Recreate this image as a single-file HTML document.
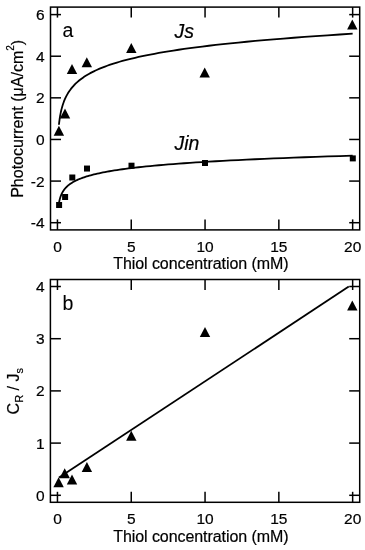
<!DOCTYPE html>
<html><head><meta charset="utf-8"><style>
html,body{margin:0;padding:0;background:#fff;}
body{width:365px;height:550px;overflow:hidden;}
svg{display:block;}
text{font-family:"Liberation Sans",Arial,sans-serif;fill:#000;stroke:#000;stroke-width:0.2px;}
</style></head><body>
<svg width="365" height="550" viewBox="0 0 365 550">
<g stroke="#000" stroke-linecap="butt" fill="none">
<rect x="50.5" y="7.1" width="309.2" height="222.8" fill="none" stroke-width="1.5"/>
<line x1="50.5" y1="14.6" x2="61" y2="14.6" stroke-width="1.5"/>
<line x1="359.7" y1="14.6" x2="349.2" y2="14.6" stroke-width="1.5"/>
<line x1="50.5" y1="56.22" x2="61" y2="56.22" stroke-width="1.5"/>
<line x1="359.7" y1="56.22" x2="349.2" y2="56.22" stroke-width="1.5"/>
<line x1="50.5" y1="97.84" x2="61" y2="97.84" stroke-width="1.5"/>
<line x1="359.7" y1="97.84" x2="349.2" y2="97.84" stroke-width="1.5"/>
<line x1="50.5" y1="139.46" x2="61" y2="139.46" stroke-width="1.5"/>
<line x1="359.7" y1="139.46" x2="349.2" y2="139.46" stroke-width="1.5"/>
<line x1="50.5" y1="181.08" x2="61" y2="181.08" stroke-width="1.5"/>
<line x1="359.7" y1="181.08" x2="349.2" y2="181.08" stroke-width="1.5"/>
<line x1="50.5" y1="222.7" x2="61" y2="222.7" stroke-width="1.5"/>
<line x1="359.7" y1="222.7" x2="349.2" y2="222.7" stroke-width="1.5"/>
<line x1="57.45" y1="229.9" x2="57.45" y2="219.4" stroke-width="1.5"/>
<line x1="57.45" y1="7.1" x2="57.45" y2="17.6" stroke-width="1.5"/>
<line x1="131.25" y1="229.9" x2="131.25" y2="219.4" stroke-width="1.5"/>
<line x1="131.25" y1="7.1" x2="131.25" y2="17.6" stroke-width="1.5"/>
<line x1="205.05" y1="229.9" x2="205.05" y2="219.4" stroke-width="1.5"/>
<line x1="205.05" y1="7.1" x2="205.05" y2="17.6" stroke-width="1.5"/>
<line x1="278.85" y1="229.9" x2="278.85" y2="219.4" stroke-width="1.5"/>
<line x1="278.85" y1="7.1" x2="278.85" y2="17.6" stroke-width="1.5"/>
<line x1="352.65" y1="229.9" x2="352.65" y2="219.4" stroke-width="1.5"/>
<line x1="352.65" y1="7.1" x2="352.65" y2="17.6" stroke-width="1.5"/>
<rect x="50.4" y="279.5" width="309.3" height="222.8" fill="none" stroke-width="1.5"/>
<line x1="50.4" y1="286.5" x2="60.9" y2="286.5" stroke-width="1.5"/>
<line x1="359.7" y1="286.5" x2="349.2" y2="286.5" stroke-width="1.5"/>
<line x1="50.4" y1="338.7" x2="60.9" y2="338.7" stroke-width="1.5"/>
<line x1="359.7" y1="338.7" x2="349.2" y2="338.7" stroke-width="1.5"/>
<line x1="50.4" y1="390.9" x2="60.9" y2="390.9" stroke-width="1.5"/>
<line x1="359.7" y1="390.9" x2="349.2" y2="390.9" stroke-width="1.5"/>
<line x1="50.4" y1="443.1" x2="60.9" y2="443.1" stroke-width="1.5"/>
<line x1="359.7" y1="443.1" x2="349.2" y2="443.1" stroke-width="1.5"/>
<line x1="50.4" y1="495.3" x2="60.9" y2="495.3" stroke-width="1.5"/>
<line x1="359.7" y1="495.3" x2="349.2" y2="495.3" stroke-width="1.5"/>
<line x1="57.45" y1="502.3" x2="57.45" y2="491.8" stroke-width="1.5"/>
<line x1="57.45" y1="279.5" x2="57.45" y2="290" stroke-width="1.5"/>
<line x1="131.25" y1="502.3" x2="131.25" y2="491.8" stroke-width="1.5"/>
<line x1="131.25" y1="279.5" x2="131.25" y2="290" stroke-width="1.5"/>
<line x1="205.05" y1="502.3" x2="205.05" y2="491.8" stroke-width="1.5"/>
<line x1="205.05" y1="279.5" x2="205.05" y2="290" stroke-width="1.5"/>
<line x1="278.85" y1="502.3" x2="278.85" y2="491.8" stroke-width="1.5"/>
<line x1="278.85" y1="279.5" x2="278.85" y2="290" stroke-width="1.5"/>
<line x1="352.65" y1="502.3" x2="352.65" y2="491.8" stroke-width="1.5"/>
<line x1="352.65" y1="279.5" x2="352.65" y2="290" stroke-width="1.5"/>
<path d="M58.93 124.75 L58.99 124.13 L59.06 123.5 L59.14 122.86 L59.21 122.22 L59.29 121.57 L59.38 120.92 L59.47 120.26 L59.56 119.6 L59.65 118.93 L59.75 118.25 L59.86 117.57 L59.97 116.89 L60.08 116.2 L60.2 115.51 L60.33 114.81 L60.46 114.11 L60.6 113.41 L60.74 112.7 L60.89 111.99 L61.05 111.27 L61.21 110.55 L61.38 109.83 L61.56 109.11 L61.75 108.38 L61.94 107.65 L62.15 106.91 L62.36 106.17 L62.58 105.43 L62.82 104.69 L63.06 103.95 L63.32 103.2 L63.59 102.45 L63.86 101.7 L64.16 100.94 L64.46 100.19 L64.78 99.43 L65.12 98.67 L65.46 97.91 L65.83 97.14 L66.21 96.38 L66.61 95.61 L67.03 94.84 L67.46 94.08 L67.92 93.3 L68.4 92.53 L68.89 91.76 L69.41 90.98 L69.96 90.21 L70.53 89.43 L71.12 88.65 L71.75 87.87 L72.4 87.09 L73.08 86.31 L73.79 85.53 L74.53 84.74 L75.31 83.96 L76.12 83.17 L76.98 82.39 L77.86 81.6 L78.79 80.81 L79.77 80.02 L80.78 79.24 L81.84 78.45 L82.95 77.66 L84.12 76.87 L85.33 76.07 L86.6 75.28 L87.93 74.49 L89.31 73.7 L90.76 72.9 L92.28 72.11 L93.87 71.32 L95.53 70.52 L97.26 69.73 L99.07 68.93 L100.97 68.13 L102.95 67.34 L105.02 66.54 L107.18 65.75 L109.45 64.95 L111.82 64.15 L114.29 63.35 L116.88 62.56 L119.59 61.76 L122.41 60.96 L125.37 60.16 L128.47 59.36 L131.7 58.56 L135.08 57.76 L138.61 56.96 L142.31 56.16 L146.17 55.36 L150.21 54.56 L154.44 53.76 L158.85 52.96 L163.47 52.16 L168.29 51.36 L173.34 50.56 L178.62 49.76 L184.13 48.96 L189.9 48.16 L195.93 47.36 L202.24 46.56 L208.83 45.75 L215.72 44.95 L222.93 44.15 L230.46 43.35 L238.34 42.55 L246.58 41.75 L255.19 40.94 L264.19 40.14 L273.6 39.34 L283.44 38.54 L293.73 37.73 L304.49 36.93 L315.74 36.13 L327.5 35.33 L339.79 34.52 L352.65 33.72" fill="none" stroke-width="1.8" stroke-linejoin="round"/>
<path d="M58.93 203.33 L58.99 202.93 L59.06 202.53 L59.14 202.12 L59.21 201.72 L59.29 201.32 L59.38 200.92 L59.47 200.52 L59.56 200.12 L59.65 199.72 L59.75 199.32 L59.86 198.92 L59.97 198.52 L60.08 198.12 L60.2 197.72 L60.33 197.32 L60.46 196.91 L60.6 196.51 L60.74 196.11 L60.89 195.71 L61.05 195.31 L61.21 194.91 L61.38 194.51 L61.56 194.11 L61.75 193.71 L61.94 193.31 L62.15 192.91 L62.36 192.51 L62.58 192.1 L62.82 191.7 L63.06 191.3 L63.32 190.9 L63.59 190.5 L63.86 190.1 L64.16 189.7 L64.46 189.3 L64.78 188.9 L65.12 188.5 L65.46 188.1 L65.83 187.7 L66.21 187.3 L66.61 186.89 L67.03 186.49 L67.46 186.09 L67.92 185.69 L68.4 185.29 L68.89 184.89 L69.41 184.49 L69.96 184.09 L70.53 183.69 L71.12 183.29 L71.75 182.89 L72.4 182.49 L73.08 182.09 L73.79 181.68 L74.53 181.28 L75.31 180.88 L76.12 180.48 L76.98 180.08 L77.86 179.68 L78.79 179.28 L79.77 178.88 L80.78 178.48 L81.84 178.08 L82.95 177.68 L84.12 177.28 L85.33 176.88 L86.6 176.47 L87.93 176.07 L89.31 175.67 L90.76 175.27 L92.28 174.87 L93.87 174.47 L95.53 174.07 L97.26 173.67 L99.07 173.27 L100.97 172.87 L102.95 172.47 L105.02 172.07 L107.18 171.66 L109.45 171.26 L111.82 170.86 L114.29 170.46 L116.88 170.06 L119.59 169.66 L122.41 169.26 L125.37 168.86 L128.47 168.46 L131.7 168.06 L135.08 167.66 L138.61 167.26 L142.31 166.86 L146.17 166.45 L150.21 166.05 L154.44 165.65 L158.85 165.25 L163.47 164.85 L168.29 164.45 L173.34 164.05 L178.62 163.65 L184.13 163.25 L189.9 162.85 L195.93 162.45 L202.24 162.05 L208.83 161.65 L215.72 161.24 L222.93 160.84 L230.46 160.44 L238.34 160.04 L246.58 159.64 L255.19 159.24 L264.19 158.84 L273.6 158.44 L283.44 158.04 L293.73 157.64 L304.49 157.24 L315.74 156.84 L327.5 156.44 L339.79 156.03 L352.65 155.63" fill="none" stroke-width="1.8" stroke-linejoin="round"/>
<path d="M58.9 125.85L64.1 135.85L53.7 135.85Z" stroke="none" fill="#000"/>
<path d="M65 108.6L70.2 118.6L59.8 118.6Z" stroke="none" fill="#000"/>
<path d="M72 64L77.2 74L66.8 74Z" stroke="none" fill="#000"/>
<path d="M86.8 57.15L92 67.15L81.6 67.15Z" stroke="none" fill="#000"/>
<path d="M131.3 42.9L136.5 52.9L126.1 52.9Z" stroke="none" fill="#000"/>
<path d="M204.7 67.6L209.9 77.6L199.5 77.6Z" stroke="none" fill="#000"/>
<path d="M352.3 19.5L357.5 29.5L347.1 29.5Z" stroke="none" fill="#000"/>
<rect x="56.1" y="202" width="6" height="6" stroke="none" fill="#000"/>
<rect x="62.1" y="194" width="6" height="6" stroke="none" fill="#000"/>
<rect x="69.3" y="174.5" width="6" height="6" stroke="none" fill="#000"/>
<rect x="84" y="165.55" width="6" height="6" stroke="none" fill="#000"/>
<rect x="128.5" y="162.7" width="6" height="6" stroke="none" fill="#000"/>
<rect x="202" y="160" width="6" height="6" stroke="none" fill="#000"/>
<rect x="349.8" y="155.4" width="6" height="6" stroke="none" fill="#000"/>
<line x1="59" y1="477.61" x2="348.8" y2="286.57" stroke-width="1.8"/>
<path d="M58.6 477.2L63.8 487.2L53.4 487.2Z" stroke="none" fill="#000"/>
<path d="M64.7 468.3L69.9 478.3L59.5 478.3Z" stroke="none" fill="#000"/>
<path d="M72 474.4L77.2 484.4L66.8 484.4Z" stroke="none" fill="#000"/>
<path d="M86.9 462L92.1 472L81.7 472Z" stroke="none" fill="#000"/>
<path d="M131.3 430.8L136.5 440.8L126.1 440.8Z" stroke="none" fill="#000"/>
<path d="M205 327.1L210.2 337.1L199.8 337.1Z" stroke="none" fill="#000"/>
<path d="M352.3 300.6L357.5 310.6L347.1 310.6Z" stroke="none" fill="#000"/>
</g>
<g>
<text x="44.6" y="20.05" text-anchor="end" font-size="15.5">6</text>
<text x="44.6" y="61.67" text-anchor="end" font-size="15.5">4</text>
<text x="44.6" y="103.29" text-anchor="end" font-size="15.5">2</text>
<text x="44.6" y="144.91" text-anchor="end" font-size="15.5">0</text>
<text x="44.6" y="186.53" text-anchor="end" font-size="15.5">-2</text>
<text x="44.6" y="228.15" text-anchor="end" font-size="15.5">-4</text>
<text x="44.6" y="291.95" text-anchor="end" font-size="15.5">4</text>
<text x="44.6" y="344.15" text-anchor="end" font-size="15.5">3</text>
<text x="44.6" y="396.35" text-anchor="end" font-size="15.5">2</text>
<text x="44.6" y="448.55" text-anchor="end" font-size="15.5">1</text>
<text x="44.6" y="500.75" text-anchor="end" font-size="15.5">0</text>
<text x="57.45" y="251.9" text-anchor="middle" font-size="15.5">0</text>
<text x="131.25" y="251.9" text-anchor="middle" font-size="15.5">5</text>
<text x="205.05" y="251.9" text-anchor="middle" font-size="15.5">10</text>
<text x="278.85" y="251.9" text-anchor="middle" font-size="15.5">15</text>
<text x="352.65" y="251.9" text-anchor="middle" font-size="15.5">20</text>
<text x="57.45" y="523.5" text-anchor="middle" font-size="15.5">0</text>
<text x="131.25" y="523.5" text-anchor="middle" font-size="15.5">5</text>
<text x="205.05" y="523.5" text-anchor="middle" font-size="15.5">10</text>
<text x="278.85" y="523.5" text-anchor="middle" font-size="15.5">15</text>
<text x="352.65" y="523.5" text-anchor="middle" font-size="15.5">20</text>
<text x="113.2" y="269.3" font-size="16" textLength="175.3" lengthAdjust="spacing">Thiol concentration (mM)</text>
<text x="113.2" y="541.9" font-size="16" textLength="175.3" lengthAdjust="spacing">Thiol concentration (mM)</text>
<text transform="translate(23.2,197.8) rotate(-90)" font-size="16">Photocurrent (μA/cm<tspan font-size="10" dy="-9.7">2</tspan><tspan dy="9.7">)</tspan></text>
<text transform="translate(18.6,414.4) rotate(-90)" font-size="16">C<tspan font-size="11" dy="4.2">R</tspan><tspan dy="-4.2"> / J</tspan><tspan font-size="11" dy="4.2">s</tspan></text>
<text x="62.4" y="36.7" font-size="19.5" style="stroke-width:0.1px">a</text>
<text x="62.4" y="309.8" font-size="19.5" style="stroke-width:0.1px">b</text>
<text x="174.6" y="37.8" font-size="19.5" font-style="italic">Js</text>
<text x="174.4" y="149.6" font-size="19.5" font-style="italic">Jin</text>
</g>
</svg>
</body></html>
